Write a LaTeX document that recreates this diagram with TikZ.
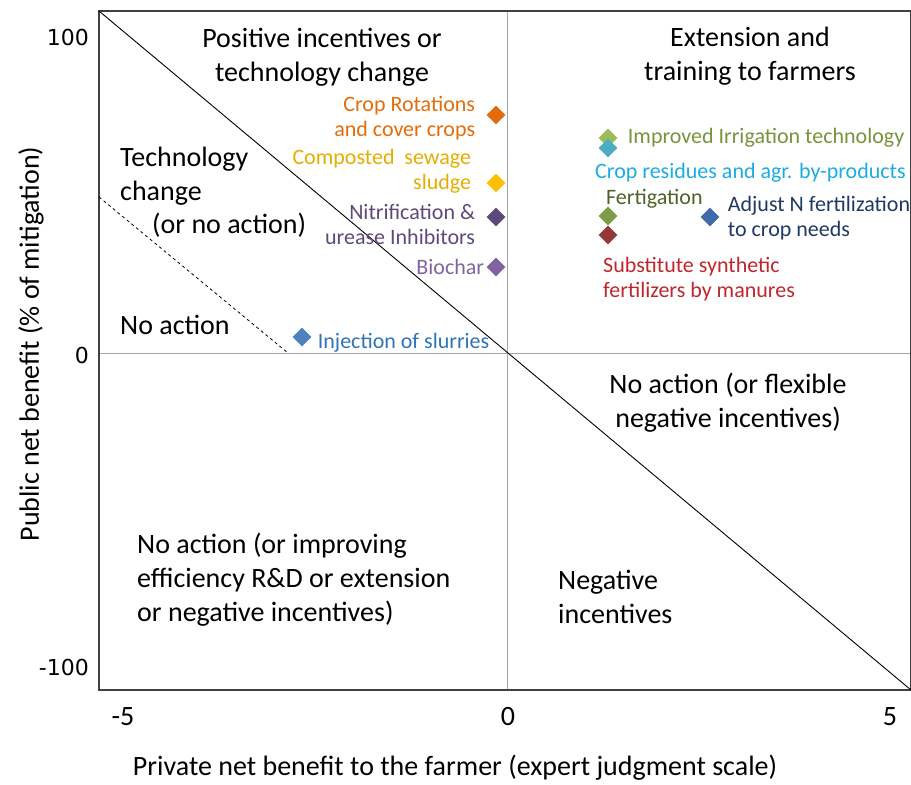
\documentclass[tikz,border=0pt]{standalone}
\usepackage{fontspec}
\setmainfont{Carlito}
\newfontfamily\tickfont{DejaVu Sans}
\usepackage{tikz}
\usetikzlibrary{positioning,shapes.geometric}

\definecolor{rotc}{HTML}{E46C0A}
\definecolor{sludc}{HTML}{FFC000}
\definecolor{nitc}{HTML}{5F497A}
\definecolor{bioc}{HTML}{8064A2}
\definecolor{slurc}{HTML}{4F81BD}
\definecolor{slurt}{HTML}{2E75B6}
\definecolor{irrc}{HTML}{9BBB59}
\definecolor{irrt}{HTML}{77933C}
\definecolor{resc}{HTML}{4BACC6}
\definecolor{rest}{HTML}{1CACE2}
\definecolor{fertc}{HTML}{7F9A48}
\definecolor{fertt}{HTML}{4F6228}
\definecolor{subc}{HTML}{953735}
\definecolor{subt}{HTML}{C0262B}
\definecolor{adjc}{HTML}{3F6BA8}
\definecolor{adjt}{HTML}{1F3864}

\begin{document}
\begin{tikzpicture}[
  x=1pt, y=-1pt,
  node distance=10pt,
  dmd/.style={diamond, fill=#1, minimum size=19pt, inner sep=0pt},
  lbl/.style={font=\fontsize{22}{25}\selectfont, inner sep=0pt, align=left},
  zone/.style={font=\fontsize{28}{34}\selectfont, inner sep=0pt, align=center},
  tick/.style={font=\fontsize{28}{28}\selectfont, inner sep=0pt},
  ytick/.style={font=\tickfont\fontsize{22}{22}\selectfont, inner sep=0pt, anchor=east}
]
\useasboundingbox (0,0) rectangle (911,785);

% frame and axes
\draw[gray!70, line width=0.6pt] (507,11) -- (507,690);
\draw[gray!70, line width=0.6pt] (99,353) -- (911,353);
\draw[black!75, line width=1.2pt] (99,11) rectangle (911,690);
\draw[line width=0.9pt] (99,11) -- (911,690);
\draw[dashed, line width=0.8pt] (99,197) -- (288,353);

% tick labels
\node[tick] (xm5) at (123,717) {-5};
\node[tick] (x0) at (508,717) {0};
\node[tick] (x5) at (890,717) {5};
\node[ytick] (y100) at (89,37) {100};
\node[ytick] (y0) at (89,355) {0};
\node[ytick] (ym100) at (89,667) {-100};
\node[tick] (xlab) at (455,768) {Private net benefit to the farmer (expert judgment scale)};
\node[tick, rotate=90] (ylab) at (31,344) {Public net benefit (\% of mitigation)};

% zones
\node[zone] (posinc) at (322,57) {Positive incentives or\\technology change};
\node[zone] (ext) at (750,56) {Extension and\\training to farmers};
\node[zone, anchor=west, align=left] (techch) at (120,176) {Technology\\change};
\node[zone, anchor=west] (ornoact) at (152,225) {(or no action)};
\node[zone, anchor=west] (noact) at (120,325) {No action};
\node[zone] (flex) at (728,403) {No action (or flexible\\negative incentives)};
\node[zone, align=left, anchor=west] (improv) at (137,580) {No action (or improving\\efficiency R\&D or extension\\or negative incentives)};
\node[zone, align=left, anchor=west] (neginc) at (558,597) {Negative\\incentives};

% measures
\node[dmd=rotc] (rot) at (496,115) {};
\node[dmd=sludc] (slud) at (496,183) {};
\node[dmd=nitc] (nit) at (496,217) {};
\node[dmd=bioc] (bio) at (496,267) {};
\node[dmd=slurc] (slur) at (302,337) {};
\node[dmd=irrc] (irr) at (608,138) {};
\node[dmd=resc] (res) at (608,148) {};
\node[dmd=fertc] (fert) at (608,216) {};
\node[dmd=subc] (sub) at (608,235) {};
\node[dmd=adjc] (adj) at (710,217) {};

\node[lbl, align=right, text=rotc, left=11pt of rot, yshift=-3pt] (rotlbl) {Crop Rotations\\and cover crops};
\node[lbl, align=right, text=sludc!90!black, left=15pt of slud, yshift=12pt] (sludlbl) {Composted\ \ sewage\\sludge};
\node[lbl, align=right, text=nitc, left=11pt of nit, yshift=-7pt] (nitlbl) {Nitrification \&\\urease Inhibitors};
\node[lbl, text=bioc, left=2pt of bio] (biolbl) {Biochar};
\node[lbl, text=slurt, right=6pt of slur, yshift=-6pt] (slurlbl) {Injection of slurries};
\node[lbl, text=irrt, right=10pt of irr] (irrlbl) {Improved Irrigation technology};
\node[lbl, text=rest, anchor=west] (reslbl) at ([xshift=-13pt, yshift=-25pt]res.center) {Crop residues and agr. by-products};
\node[lbl, text=fertt, anchor=west] (fertlbl) at ([xshift=-2pt, yshift=17pt]fert.center) {Fertigation};
\node[lbl, text=subt, anchor=west] (sublbl) at ([xshift=-5pt, yshift=-44pt]sub.center) {Substitute synthetic\\fertilizers by manures};
\node[lbl, text=adjt, right=8pt of adj, yshift=-1pt] (adjlbl) {Adjust N fertilization\\to crop needs};

\end{tikzpicture}
\end{document}
